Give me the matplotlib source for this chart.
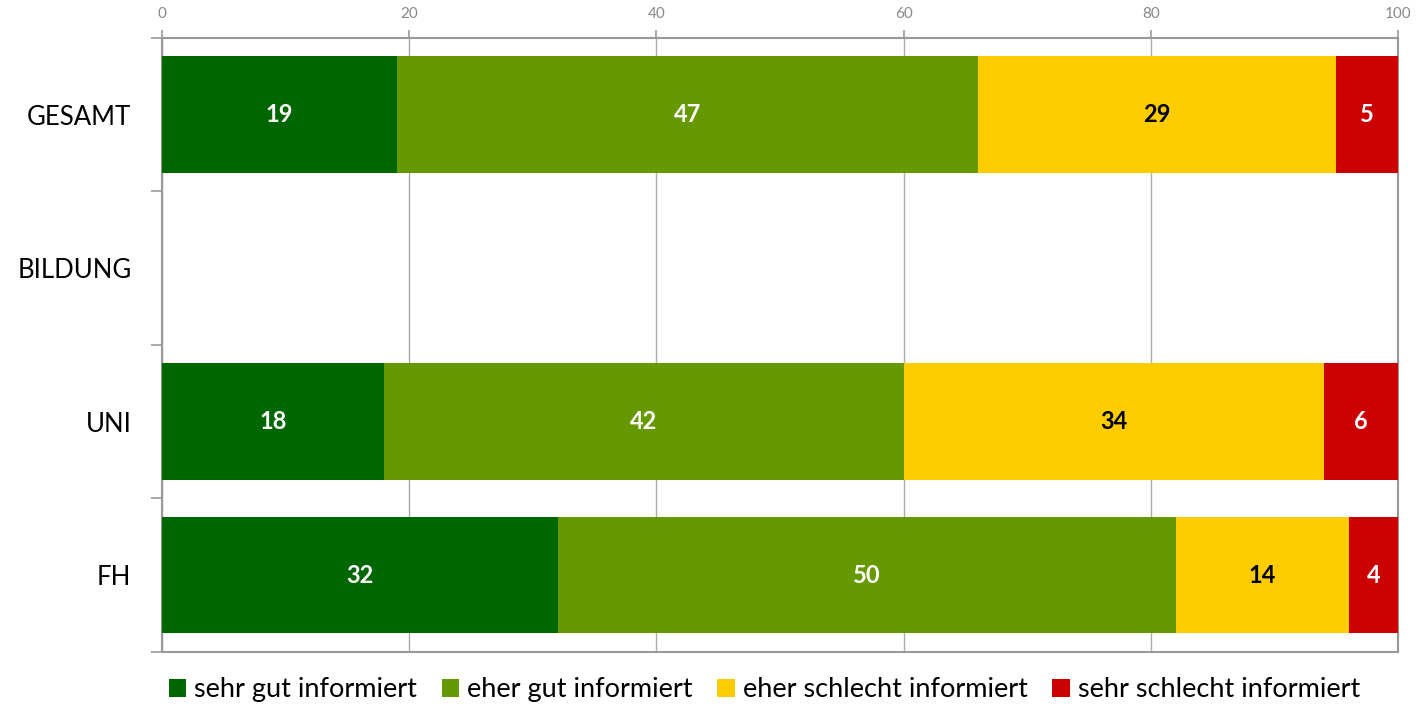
import matplotlib.pyplot as plt
import numpy as np

categories = ['GESAMT', 'BILDUNG', 'UNI', 'FH']
series_names = ['sehr gut informiert', 'eher gut informiert',
                'eher schlecht informiert', 'sehr schlecht informiert']
sehr_gut = [19, np.nan, 18, 32]
eher_gut = [47, np.nan, 42, 50]
eher_schlecht = [29, np.nan, 34, 14]
sehr_schlecht = [5, np.nan, 6, 4]
x_ticks = [0, 20, 40, 60, 80, 100]

colors = ['#006600', '#669900', '#FFCC00', '#CC0000']
text_colors = ['white', 'white', 'black', 'white']

plt.rcParams['font.family'] = ['Lato', 'DejaVu Sans']

fig = plt.figure(figsize=(14.21, 7.07), dpi=100)
ax = fig.add_axes([0.114, 0.078, 0.8698, 0.8685])

y = np.arange(len(categories))
left = np.zeros(len(categories))
handles = []
for vals, name, col, tcol in zip([sehr_gut, eher_gut, eher_schlecht, sehr_schlecht],
                                 series_names, colors, text_colors):
    vals = np.array(vals, dtype=float)
    v = np.nan_to_num(vals)
    bars = ax.barh(y, v, left=left, height=0.76, color=col, label=name, zorder=3)
    handles.append(bars)
    for yi, (l, w) in enumerate(zip(left, vals)):
        if not np.isnan(w):
            ax.text(l + w / 2, yi, f'{int(w)}', ha='center', va='center',
                    color=tcol, fontsize=17, fontweight='bold', zorder=4)
    left = left + v

ax.set_xlim(0, 100)
ax.set_ylim(len(categories) - 0.5, -0.5)
ax.set_yticks(np.arange(len(categories) + 1) - 0.5)
ax.set_yticklabels([])
ax.set_yticks(y, minor=True)
ax.set_yticklabels(categories, minor=True, fontsize=18.5)
ax.tick_params(axis='y', which='minor', length=0, pad=22)
ax.tick_params(axis='y', which='major', length=8, color='#999999', width=1.2)

ax.xaxis.tick_top()
ax.set_xticks(x_ticks)
ax.tick_params(axis='x', length=6, color='#999999', width=1.2,
               labelcolor='#888888', labelsize=11, pad=6)
ax.grid(axis='x', color='#AAAAAA', linewidth=1, zorder=0)
for s in ax.spines.values():
    s.set_color('#999999')
    s.set_linewidth(1.5)

fig.legend(handles=handles, labels=series_names, loc='lower center',
           bbox_to_anchor=(0.538, -0.028), ncol=4, frameon=False, fontsize=19.5,
           handlelength=0.65, handleheight=0.65, handletextpad=0.3, columnspacing=0.9)

fig.savefig('out.png', dpi=100)
